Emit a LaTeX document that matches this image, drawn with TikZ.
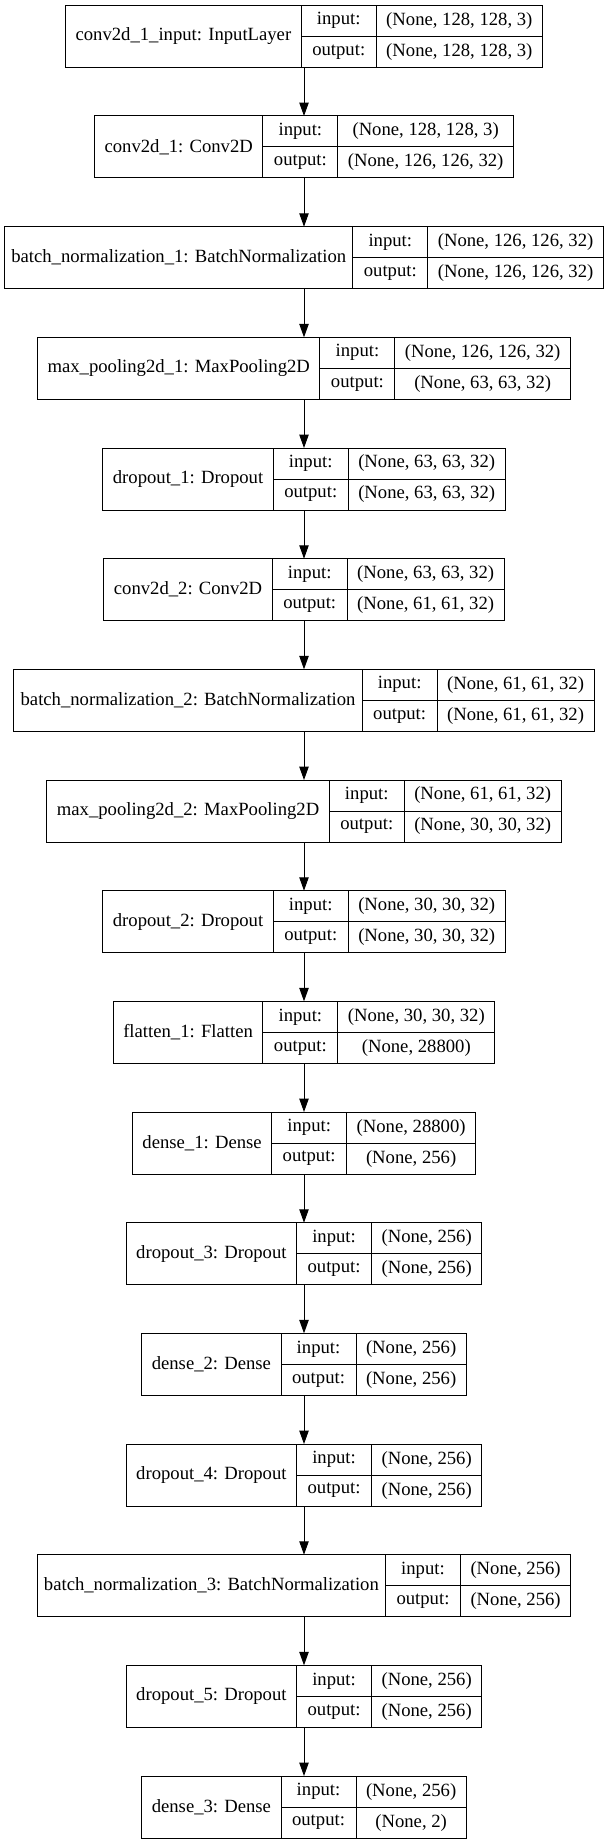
\documentclass[tikz,border=0pt]{standalone}
\usepackage{fontspec}
\setmainfont{Liberation Serif}
\usetikzlibrary{positioning,arrows.meta}

\newlength\namew
\newlength\shapew
\newlength\othw
\newcommand\lfont{\fontsize{14pt}{16.8pt}\selectfont}

\tikzset{
  layerbox/.style={draw, line width=0.75pt, inner sep=0pt, outer sep=0pt, minimum height=46.5pt},
  cell/.style={draw, line width=0.75pt, inner sep=0pt, outer sep=0pt, minimum height=23.25pt, font=\lfont},
  namecell/.style={cell, minimum height=46.5pt},
  iocell/.style={cell, minimum width=56.25pt},
  edge/.style={line width=0.75pt, -{Triangle[length=10pt,width=7pt]}}
}

% [#1 name padding] #2 node name, #3 top (px), #4 layer label, #5 input shape, #6 output shape
\newcommand\kerasnode[6][15pt]{%
  \pgfinterruptpicture
    \settowidth\namew{\lfont #4}\global\namew=\namew
    \settowidth\shapew{\lfont #5}\settowidth\othw{\lfont #6}%
    \ifdim\othw>\shapew \shapew=\othw\fi
    \global\shapew=\shapew
  \endpgfinterruptpicture
  \addtolength\namew{#1}\addtolength\shapew{15pt}%
  \pgfmathsetlengthmacro\totw{\namew+56.25pt+\shapew}%
  \pgfmathsetlengthmacro\topy{-0.75pt*#3}%
  \node[layerbox, minimum width=\totw, anchor=north] (#2) at (228pt,\topy) {};
  \node[namecell, minimum width=\namew, anchor=north west] (#2-name) at (#2.north west) {#4};
  \node[iocell, anchor=north west] (#2-in) at (#2-name.north east) {input:};
  \node[iocell, anchor=north] (#2-out) at (#2-in.south) {output:};
  \node[cell, minimum width=\shapew, anchor=north west] (#2-ins) at (#2-in.north east) {#5};
  \node[cell, minimum width=\shapew, anchor=north] (#2-outs) at (#2-ins.south) {#6};
}

\begin{document}
\begin{tikzpicture}
\useasboundingbox (0,0) rectangle (456pt,-1383pt);

\kerasnode{input}{5.3}{conv2d\_1\_input: InputLayer}{(None, 128, 128, 3)}{(None, 128, 128, 3)}
\kerasnode{conv1}{116.0}{conv2d\_1: Conv2D}{(None, 128, 128, 3)}{(None, 126, 126, 32)}
\kerasnode[10pt]{bn1}{226.7}{batch\_normalization\_1: BatchNormalization}{(None, 126, 126, 32)}{(None, 126, 126, 32)}
\kerasnode{pool1}{337.3}{max\_pooling2d\_1: MaxPooling2D}{(None, 126, 126, 32)}{(None, 63, 63, 32)}
\kerasnode{drop1}{448.0}{dropout\_1: Dropout}{(None, 63, 63, 32)}{(None, 63, 63, 32)}
\kerasnode{conv2}{558.7}{conv2d\_2: Conv2D}{(None, 63, 63, 32)}{(None, 61, 61, 32)}
\kerasnode[10pt]{bn2}{669.3}{batch\_normalization\_2: BatchNormalization}{(None, 61, 61, 32)}{(None, 61, 61, 32)}
\kerasnode{pool2}{780.0}{max\_pooling2d\_2: MaxPooling2D}{(None, 61, 61, 32)}{(None, 30, 30, 32)}
\kerasnode{drop2}{890.7}{dropout\_2: Dropout}{(None, 30, 30, 32)}{(None, 30, 30, 32)}
\kerasnode{flat}{1001.3}{flatten\_1: Flatten}{(None, 30, 30, 32)}{(None, 28800)}
\kerasnode{dense1}{1112.0}{dense\_1: Dense}{(None, 28800)}{(None, 256)}
\kerasnode{drop3}{1222.7}{dropout\_3: Dropout}{(None, 256)}{(None, 256)}
\kerasnode{dense2}{1333.3}{dense\_2: Dense}{(None, 256)}{(None, 256)}
\kerasnode{drop4}{1444.0}{dropout\_4: Dropout}{(None, 256)}{(None, 256)}
\kerasnode[10pt]{bn3}{1554.7}{batch\_normalization\_3: BatchNormalization}{(None, 256)}{(None, 256)}
\kerasnode{drop5}{1665.3}{dropout\_5: Dropout}{(None, 256)}{(None, 256)}
\kerasnode{dense3}{1776.0}{dense\_3: Dense}{(None, 256)}{(None, 2)}

\draw[edge] (input) -- (conv1);
\draw[edge] (conv1) -- (bn1);
\draw[edge] (bn1) -- (pool1);
\draw[edge] (pool1) -- (drop1);
\draw[edge] (drop1) -- (conv2);
\draw[edge] (conv2) -- (bn2);
\draw[edge] (bn2) -- (pool2);
\draw[edge] (pool2) -- (drop2);
\draw[edge] (drop2) -- (flat);
\draw[edge] (flat) -- (dense1);
\draw[edge] (dense1) -- (drop3);
\draw[edge] (drop3) -- (dense2);
\draw[edge] (dense2) -- (drop4);
\draw[edge] (drop4) -- (bn3);
\draw[edge] (bn3) -- (drop5);
\draw[edge] (drop5) -- (dense3);
\end{tikzpicture}
\end{document}
